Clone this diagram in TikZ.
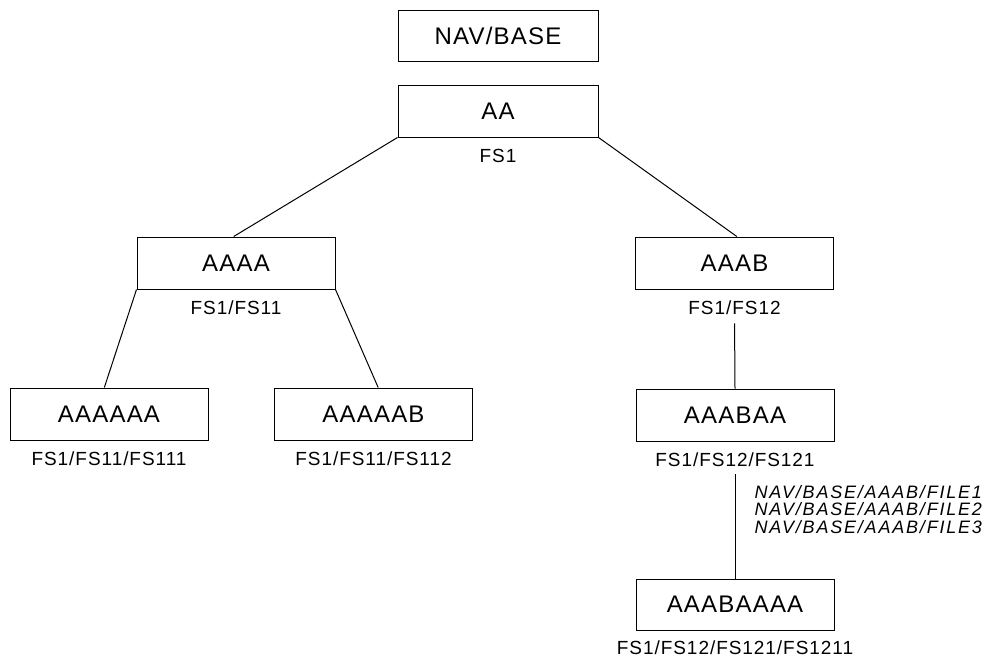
\documentclass[tikz,border=0pt]{standalone}
\usepackage{fontspec}
\setmainfont{Liberation Sans}
\newfontfamily\boitefont[LetterSpace=5]{Liberation Sans}
\newfontfamily\cheminfont[LetterSpace=10]{Liberation Sans}
\usetikzlibrary{positioning}

\begin{document}
\begin{tikzpicture}[x=1pt, y=-1pt, line width=1pt,
    boite/.style={draw, minimum width=198pt, minimum height=52pt, inner sep=0pt,
                  font=\boitefont\fontsize{24}{28}\selectfont},
    etiq/.style={inner sep=0pt, font=\boitefont\fontsize{19}{22}\selectfont},
    chemin/.style={inner sep=0pt, align=left, anchor=north west,
                   font=\cheminfont\itshape\fontsize{18}{17.5}\selectfont}]
    \useasboundingbox (0,0) rectangle (985,657);
    % Base
    \node[boite, minimum width=200pt, minimum height=51pt] (navbase) at (498,36) {NAV/BASE};
    % Niveau 1
    \node[boite, minimum width=200pt] (aa) at (498,111) {AA};
    \node[etiq, below=11pt of aa] (aalbl) {FS1};
    % Niveau 2
    \node[boite] (aaaa) at (236,263) {AAAA};
    \node[etiq, below=11pt of aaaa] (aaaalbl) {FS1/FS11};
    \node[boite] (aaab) at (734.5,263) {AAAB};
    \node[etiq, below=11pt of aaab] (aaablbl) {FS1/FS12};
    % Niveau 3
    \node[boite] (aaaaaa) at (109,414) {AAAAAA};
    \node[etiq, below=11pt of aaaaaa] (aaaaaalbl) {FS1/FS11/FS111};
    \node[boite] (aaaaab) at (373.5,414) {AAAAAB};
    \node[etiq, below=11pt of aaaaab] (aaaaablbl) {FS1/FS11/FS112};
    \node[boite] (aaabaa) at (735,415) {AAABAA};
    \node[etiq, below=11pt of aaabaa] (aaabaalbl) {FS1/FS12/FS121};
    % Niveau 4
    \node[boite, minimum height=51pt] (aaabaaaa) at (735,604.5) {AAABAAAA};
    \node[etiq, below=9.5pt of aaabaaaa] (aaabaaaalbl) {FS1/FS12/FS121/FS1211};
    % Fichiers
    \node[chemin] (fichiers) at (754,484.5) {NAV/BASE/AAAB/FILE1\\NAV/BASE/AAAB/FILE2\\NAV/BASE/AAAB/FILE3};
    % Liens
    \draw (aa.south west) -- (aaaa.95);
    \draw (aa.south east) -- (aaab.85);
    \draw (aaaa.south west) -- (aaaaaa.100);
    \draw (aaaa.south east) -- (aaaaab.80);
    \draw[shorten <=8pt] (aaablbl.south) -- (aaabaa.north);
    \draw[shorten <=7pt] (aaabaalbl.south) -- (aaabaaaa.north);
\end{tikzpicture}
\end{document}
